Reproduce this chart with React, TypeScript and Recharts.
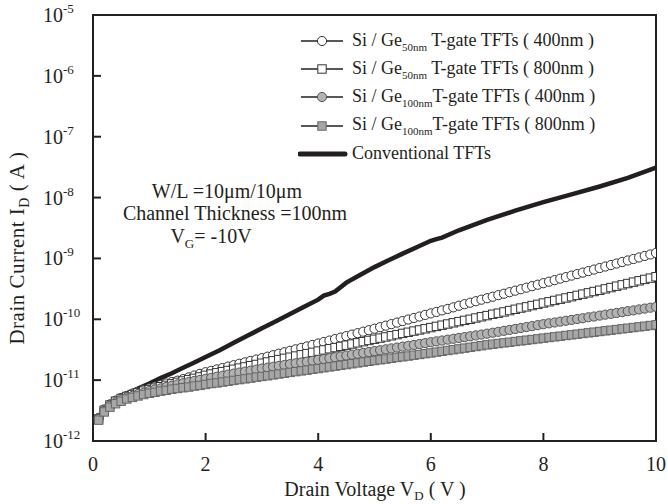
import React from 'react';
import { LineChart, Line, XAxis, YAxis, ReferenceArea, Legend } from 'recharts';

const FONT = '"Liberation Serif", "Times New Roman", Times, serif';
const INK = '#231f20';
const PA = 1e-12; // values below are in pA

const drainVoltage = [
  0.1, 0.2, 0.3, 0.4, 0.5, 0.6, 0.7, 0.8, 0.9, 1.0,
  1.1, 1.2, 1.3, 1.4, 1.5, 1.6, 1.7, 1.8, 1.9, 2.0,
  2.1, 2.2, 2.3, 2.4, 2.5, 2.6, 2.7, 2.8, 2.9, 3.0,
  3.1, 3.2, 3.3, 3.4, 3.5, 3.6, 3.7, 3.8, 3.9, 4.0,
  4.1, 4.2, 4.3, 4.4, 4.5, 4.6, 4.7, 4.8, 4.9, 5.0,
  5.1, 5.2, 5.3, 5.4, 5.5, 5.6, 5.7, 5.8, 5.9, 6.0,
  6.1, 6.2, 6.3, 6.4, 6.5, 6.6, 6.7, 6.8, 6.9, 7.0,
  7.1, 7.2, 7.3, 7.4, 7.5, 7.6, 7.7, 7.8, 7.9, 8.0,
  8.1, 8.2, 8.3, 8.4, 8.5, 8.6, 8.7, 8.8, 8.9, 9.0,
  9.1, 9.2, 9.3, 9.4, 9.5, 9.6, 9.7, 9.8, 9.9, 10.0,
];

// Si/Ge50nm T-gate TFTs (400nm) — pA
const ge50_400 = [
  2.4, 3.3, 4.0, 4.6, 5.1, 5.5, 6.0, 6.4, 6.9, 7.3,
  7.8, 8.3, 8.8, 9.3, 9.8, 10.4, 11.1, 11.9, 12.7, 13.5,
  14.2, 15.0, 15.8, 16.7, 17.6, 18.6, 19.6, 20.7, 21.8, 23.0,
  24.3, 25.7, 27.2, 28.7, 30.3, 32.1, 33.9, 35.8, 37.9, 40.0,
  42.3, 44.7, 47.3, 50.0, 52.9, 56.0, 59.2, 62.6, 66.2, 70.0,
  74.2, 78.6, 83.3, 88.3, 93.5, 99.1, 105, 111, 118, 125,
  132, 140, 148, 157, 167, 177, 187, 198, 210, 222,
  235, 249, 263, 279, 295, 312, 331, 350, 370, 392,
  415, 440, 466, 493, 522, 553, 585, 620, 656, 695,
  736, 779, 825, 873, 925, 979, 1037, 1098, 1162, 1230,
];

// Si/Ge50nm T-gate TFTs (800nm) — pA
const ge50_800 = [
  2.3, 3.2, 3.9, 4.5, 5.0, 5.4, 5.8, 6.2, 6.6, 7.0,
  7.4, 7.8, 8.2, 8.7, 9.2, 9.7, 10.2, 10.7, 11.3, 12.0,
  12.6, 13.2, 13.8, 14.4, 15.1, 15.8, 16.5, 17.3, 18.1, 19.0,
  19.9, 20.8, 21.8, 22.8, 23.8, 24.9, 26.1, 27.3, 28.6, 30.0,
  31.4, 32.8, 34.3, 35.9, 37.5, 39.2, 41.0, 42.9, 44.9, 47.0,
  49.1, 51.3, 53.6, 56.0, 58.6, 61.2, 64.0, 66.8, 69.8, 73.0,
  76.4, 80.0, 83.7, 87.5, 91.6, 95.9, 100, 105, 110, 115,
  121, 126, 132, 139, 146, 153, 160, 168, 176, 185,
  194, 204, 214, 224, 235, 247, 259, 272, 286, 300,
  316, 332, 350, 368, 387, 408, 429, 452, 475, 500,
];

// Si/Ge100nm T-gate TFTs (400nm) — pA
const ge100_400 = [
  2.3, 3.1, 3.8, 4.3, 4.8, 5.2, 5.5, 5.9, 6.2, 6.6,
  7.0, 7.3, 7.7, 8.1, 8.5, 8.9, 9.3, 9.7, 10.1, 10.5,
  10.9, 11.4, 11.8, 12.3, 12.8, 13.3, 13.8, 14.3, 14.9, 15.5,
  16.0, 16.6, 17.1, 17.7, 18.3, 18.9, 19.5, 20.1, 20.8, 21.5,
  22.2, 23.0, 23.8, 24.6, 25.4, 26.2, 27.1, 28.0, 29.0, 30.0,
  31.0, 32.1, 33.2, 34.3, 35.5, 36.7, 37.9, 39.2, 40.6, 42.0,
  43.4, 44.8, 46.3, 47.8, 49.3, 50.9, 52.6, 54.3, 56.1, 58.0,
  60.1, 62.3, 64.6, 66.9, 69.4, 71.9, 74.5, 77.3, 80.1, 83.0,
  85.8, 88.6, 91.5, 94.5, 97.7, 101, 104, 108, 111, 115,
  119, 123, 127, 131, 136, 140, 145, 150, 155, 160,
];

// Si/Ge100nm T-gate TFTs (800nm) — pA
const ge100_800 = [
  2.2, 3.0, 3.6, 4.1, 4.5, 4.9, 5.2, 5.5, 5.8, 6.1,
  6.3, 6.6, 6.8, 7.1, 7.3, 7.5, 7.7, 8.0, 8.2, 8.5,
  8.8, 9.0, 9.3, 9.6, 9.9, 10.2, 10.5, 10.8, 11.2, 11.5,
  11.8, 12.2, 12.6, 13.0, 13.4, 13.8, 14.2, 14.6, 15.1, 15.5,
  16.0, 16.5, 17.0, 17.5, 18.0, 18.6, 19.2, 19.8, 20.4, 21.0,
  21.6, 22.2, 22.9, 23.6, 24.2, 24.9, 25.7, 26.4, 27.2, 28.0,
  28.9, 29.8, 30.7, 31.6, 32.6, 33.6, 34.6, 35.7, 36.8, 38.0,
  39.0, 40.0, 41.0, 42.0, 43.1, 44.2, 45.4, 46.5, 47.7, 49.0,
  50.2, 51.5, 52.8, 54.2, 55.5, 57.0, 58.4, 59.9, 61.4, 63.0,
  64.6, 66.2, 67.9, 69.7, 71.4, 73.2, 75.1, 77.0, 79.0, 81.0,
];

// Conventional TFTs — pA
const convVoltage = [
  0.1, 0.15, 0.2, 0.3, 0.4, 0.5, 0.6, 0.8, 1.0, 1.2, 1.4, 1.6, 1.8, 2.0,
  2.25, 2.5, 2.75, 3.0, 3.25, 3.5, 3.75, 4.0, 4.1, 4.2, 4.3, 4.5, 4.75,
  5.0, 5.25, 5.5, 5.75, 6.0, 6.1, 6.2, 6.5, 7.0, 7.5, 8.0, 8.5, 9.0, 9.5, 10.0,
];
const convCurrent = [
  2.2, 2.6, 3.1, 4.1, 4.8, 5.5, 6.0, 7.3, 8.8, 10.8, 13, 16, 19.5, 24,
  31, 41, 54, 71, 93, 122, 160, 210, 245, 262, 285, 400, 540,
  720, 930, 1200, 1530, 1950, 2080, 2200, 2900, 4300, 6100, 8400, 11300, 15200, 21000, 31000,
];

const yTicks = [1e-12, 1e-11, 1e-10, 1e-9, 1e-8, 1e-7, 1e-6, 1e-5];
const yTickExponents = ['-12', '-11', '-10', '-9', '-8', '-7', '-6', '-5'];
const xTicks = [0, 2, 4, 6, 8, 10];

const legendItems = [
  { pre: 'Si / Ge', sub: '50nm', post: ' T-gate TFTs ( 400nm )', marker: 'wc' },
  { pre: 'Si / Ge', sub: '50nm', post: ' T-gate TFTs ( 800nm )', marker: 'ws' },
  { pre: 'Si / Ge', sub: '100nm', post: 'T-gate TFTs ( 400nm )', marker: 'gc' },
  { pre: 'Si / Ge', sub: '100nm', post: 'T-gate TFTs ( 800nm )', marker: 'gs' },
  { pre: 'Conventional TFTs', sub: '', post: '', marker: 'line' },
];

const markerRows = drainVoltage.map((v, i) => ({
  v,
  c1: ge50_400[i] * PA,
  s1: ge50_800[i] * PA,
  c2: ge100_400[i] * PA,
  s2: ge100_800[i] * PA,
}));
const convRows = convVoltage.map((v, i) => ({ v, conv: convCurrent[i] * PA }));

const MARK: any = {
  wc: { fill: '#ffffff', stroke: '#333333' },
  ws: { fill: '#ffffff', stroke: '#333333' },
  gc: { fill: '#b3b3b3', stroke: '#555555' },
  gs: { fill: '#a6a6a6', stroke: '#666666' },
};

const drawMarker = (kind: string, cx: number, cy: number, key?: string) => {
  const st = MARK[kind];
  if (kind === 'wc' || kind === 'gc') {
    return <circle key={key} cx={cx} cy={cy} r={4.6} fill={st.fill} stroke={st.stroke} strokeWidth={1} />;
  }
  return <rect key={key} x={cx - 4.2} y={cy - 4.2} width={8.4} height={8.4} fill={st.fill} stroke={st.stroke} strokeWidth={1} />;
};

const dotFor = (kind: string) => (p: any) => {
  if (p.cx == null || p.cy == null) return <g key={`${kind}${p.index}`} />;
  return drawMarker(kind, p.cx, p.cy, `${kind}${p.index}`);
};

const renderYTick = (props: any) => {
  const { x, y, index } = props;
  return (
    <g key={`yt${index}`}>
      <line x1={x} x2={x + 8} y1={y} y2={y} stroke={INK} strokeWidth={2} />
      <text x={x - 50} y={y + 7} fontFamily={FONT} fontSize={20} fill={INK} textAnchor="start">
        10<tspan dy={-9} fontSize={13}>{yTickExponents[index]}</tspan>
      </text>
    </g>
  );
};

const renderXTick = (props: any) => {
  const { x, y, payload, index } = props;
  return (
    <g key={`xt${index}`}>
      <line x1={x} x2={x} y1={y} y2={y - 8} stroke={INK} strokeWidth={2} />
      <text x={x} y={y + 30} fontFamily={FONT} fontSize={20} fill={INK} textAnchor="middle">
        {payload.value}
      </text>
    </g>
  );
};

const LegendBox = () => (
  <div style={{ fontFamily: FONT, color: INK, fontSize: 18 }}>
    {legendItems.map((it, i) => (
      <div key={i} style={{ display: 'flex', alignItems: 'center', height: 28.2, whiteSpace: 'nowrap' }}>
        <svg width={52} height={20} style={{ display: 'block' }}>
          {it.marker === 'line' ? (
            <line x1={2} x2={47} y1={10} y2={10} stroke={INK} strokeWidth={5} strokeLinecap="round" />
          ) : (
            <g>
              <line x1={3} x2={45} y1={10} y2={10} stroke={INK} strokeWidth={1.6} />
              {drawMarker(it.marker, 24, 10)}
            </g>
          )}
        </svg>
        <span style={{ marginLeft: 2 }}>
          {it.pre}
          {it.sub ? <sub style={{ fontSize: 11, verticalAlign: -5 }}>{it.sub}</sub> : null}
          {it.post}
        </span>
      </div>
    ))}
  </div>
);

const noteStyle: React.CSSProperties = {
  position: 'absolute',
  transform: 'translateX(-50%)',
  fontFamily: FONT,
  fontSize: 20,
  color: INK,
  lineHeight: '22px',
  whiteSpace: 'nowrap',
};

export default function App() {
  return (
    <div style={{ position: 'absolute', left: 0, top: 0, width: 668, height: 504, background: '#fff' }}>
      <LineChart
        width={668}
        height={504}
        data={markerRows}
        margin={{ top: 15, right: 12, bottom: 0, left: 0 }}
      >
        <XAxis
          dataKey="v"
          type="number"
          domain={[0, 10]}
          ticks={xTicks}
          interval={0}
          height={63}
          tickSize={0}
          tickMargin={0}
          axisLine={false}
          tickLine={false}
          tick={renderXTick}
          allowDataOverflow
        />
        <YAxis
          type="number"
          scale="log"
          domain={[1e-12, 1e-5]}
          ticks={yTicks}
          interval={0}
          width={93}
          tickSize={0}
          tickMargin={0}
          axisLine={false}
          tickLine={false}
          tick={renderYTick}
          allowDataOverflow
        />
        <ReferenceArea x1={0} x2={10} y1={1e-12} y2={1e-5} fill="none" stroke={INK} strokeWidth={2} ifOverflow="visible" />
        <Line dataKey="c1" type="linear" stroke="#333" strokeWidth={1} dot={dotFor('wc')} activeDot={false} isAnimationActive={false} />
        <Line dataKey="s1" type="linear" stroke="#333" strokeWidth={1} dot={dotFor('ws')} activeDot={false} isAnimationActive={false} />
        <Line dataKey="c2" type="linear" stroke="#444" strokeWidth={1} dot={dotFor('gc')} activeDot={false} isAnimationActive={false} />
        <Line dataKey="s2" type="linear" stroke="#444" strokeWidth={1} dot={dotFor('gs')} activeDot={false} isAnimationActive={false} />
        <Line data={convRows} dataKey="conv" type="linear" stroke={INK} strokeWidth={4.5} dot={false} activeDot={false} isAnimationActive={false} />
        <Legend
          layout="vertical"
          align="center"
          verticalAlign="middle"
          content={<LegendBox />}
          wrapperStyle={{ left: 298, top: 27, width: 330, height: 145 }}
        />
      </LineChart>

      {/* Annotation */}
      <div style={{ ...noteStyle, left: 227, top: 180 }}>W/L =10μm/10μm</div>
      <div style={{ ...noteStyle, left: 235, top: 202 }}>Channel Thickness =100nm</div>
      <div style={{ ...noteStyle, left: 211, top: 225 }}>
        V<sub style={{ fontSize: 13, verticalAlign: -5, lineHeight: '10px' }}>G</sub>= -10V
      </div>

      {/* Y axis title */}
      <div style={{ position: 'absolute', left: 19, top: 248, transform: 'translate(-50%, -50%) rotate(-90deg)', fontFamily: FONT, fontSize: 21, letterSpacing: 0.5, color: INK, whiteSpace: 'nowrap' }}>
        Drain Current I<sub style={{ fontSize: 14, verticalAlign: -5 }}>D</sub> ( A )
      </div>

      {/* X axis title */}
      <div style={{ position: 'absolute', left: 375, top: 479, transform: 'translateX(-50%)', fontFamily: FONT, fontSize: 20, color: INK, whiteSpace: 'nowrap', lineHeight: '20px' }}>
        Drain Voltage V<sub style={{ fontSize: 13, verticalAlign: -4, lineHeight: '10px' }}>D</sub> ( V )
      </div>
    </div>
  );
}
